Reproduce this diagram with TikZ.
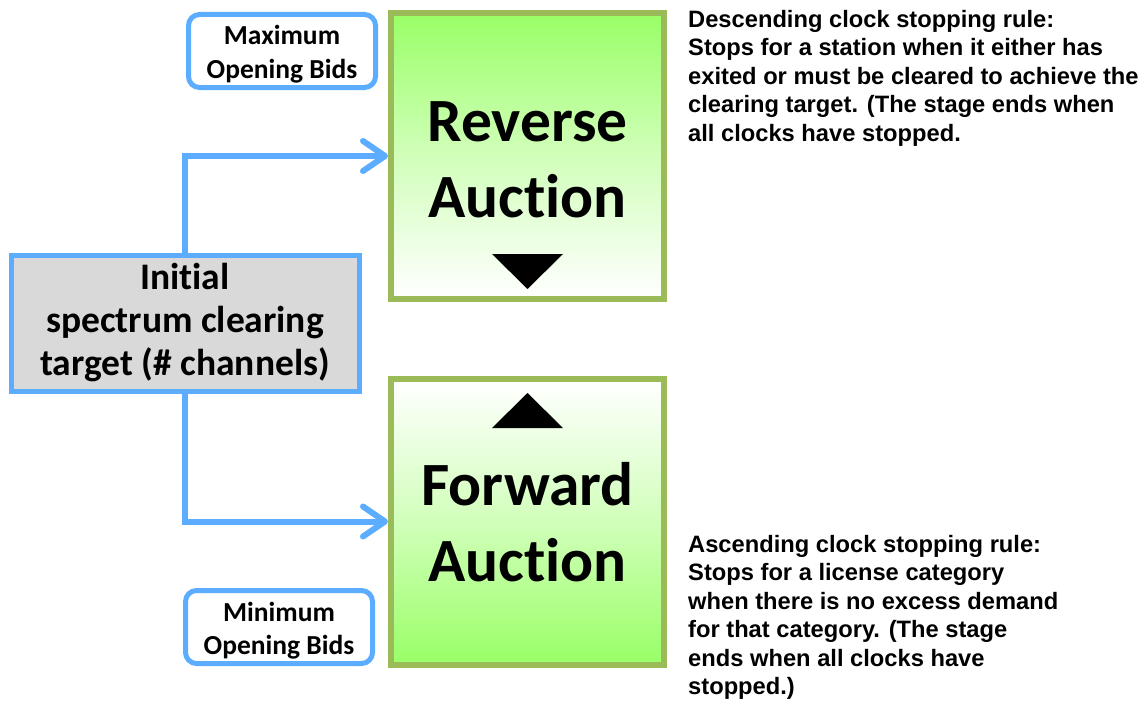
\documentclass[tikz,border=0pt]{standalone}
\usepackage{fontspec}
\setmainfont[Ligatures={NoCommon}]{Carlito}
\newfontfamily\notefont{Liberation Sans}
\usetikzlibrary{arrows.meta,shadows}
\definecolor{linkblue}{RGB}{92,172,255}
\definecolor{olive}{RGB}{155,187,89}
\definecolor{lime}{RGB}{153,255,102}
\definecolor{boxgray}{RGB}{217,217,217}
\definecolor{shadegray}{RGB}{160,160,160}
\tikzset{
  auctionbox/.style={draw=olive, line width=6pt, minimum width=273pt, minimum height=286pt, inner sep=0pt},
  bidbox/.style={draw=linkblue, line width=5pt, rounded corners=11pt, fill=white,
    minimum width=187pt, minimum height=73pt, inner sep=0pt},
  bidlabel/.style={align=center, inner sep=0pt, font=\bfseries\fontsize{27.5}{33.5}\selectfont},
  biglabel/.style={align=center, inner sep=0pt, font=\bfseries\fontsize{61.5}{76}\selectfont},
  note/.style={align=left, anchor=north west, inner sep=0pt,
    font=\notefont\bfseries\fontsize{23.7}{28.5}\selectfont},
  conn/.style={draw=linkblue, line width=6pt,
    -{Straight Barb[length=22pt, width=30pt, round]}},
  marker/.style={fill=black}
}
\begin{document}
\begin{tikzpicture}[x=1pt, y=-1pt]
\useasboundingbox (0,0) rectangle (1148,701);

% auction stages
\node[auctionbox, top color=lime, bottom color=white, middle color=lime!45] (rev) at (527.5,156) {};
\node[auctionbox, top color=white, bottom color=lime, middle color=lime!45] (fwd) at (527.5,521.5) {};
\node[biglabel] (revlbl) at (527.5,159.5) {Reverse\\Auction};
\node[biglabel] (fwdlbl) at (527.5,522) {Forward\\Auction};

% clock direction markers
\fill[marker] (492,254) -- (563,254) -- (527.5,289) -- cycle;
\fill[marker] (492,428) -- (563,428) -- (527.5,393) -- cycle;

% starting point
\node[draw=linkblue, line width=5pt, fill=boxgray, minimum width=348pt, minimum height=136pt,
  align=center, inner sep=0pt, font=\bfseries\fontsize{37.5}{43}\selectfont,
  drop shadow={shadow xshift=3pt, shadow yshift=-3pt, opacity=1, fill=shadegray}]
  (init) at (185,323) {Initial\\spectrum clearing\\target (\# channels)};

% connectors
\draw[conn] (init.north) |- (rev.west);
\draw[conn] (init.south) |- (fwd.west);

% opening bids
\node[bidbox] (maxbid) at (282,51) {};
\node[bidlabel] (maxlbl) at (282,54) {Maximum\\Opening Bids};
\node[bidbox] (minbid) at (279,627) {};
\node[bidlabel] (minlbl) at (279,630.5) {Minimum\\Opening Bids};

% stopping rules
\node[note] (revnote) at (688,10) {Descending clock stopping rule:\\Stops for a station when it either has\\exited or must be cleared to achieve the\\clearing target. (The stage ends when\\all clocks have stopped.};
\node[note] (fwdnote) at (688,535) {Ascending clock stopping rule:\\Stops for a license category\\when there is no excess demand\\for that category. (The stage\\ends when all clocks have\\stopped.)};
\end{tikzpicture}
\end{document}
